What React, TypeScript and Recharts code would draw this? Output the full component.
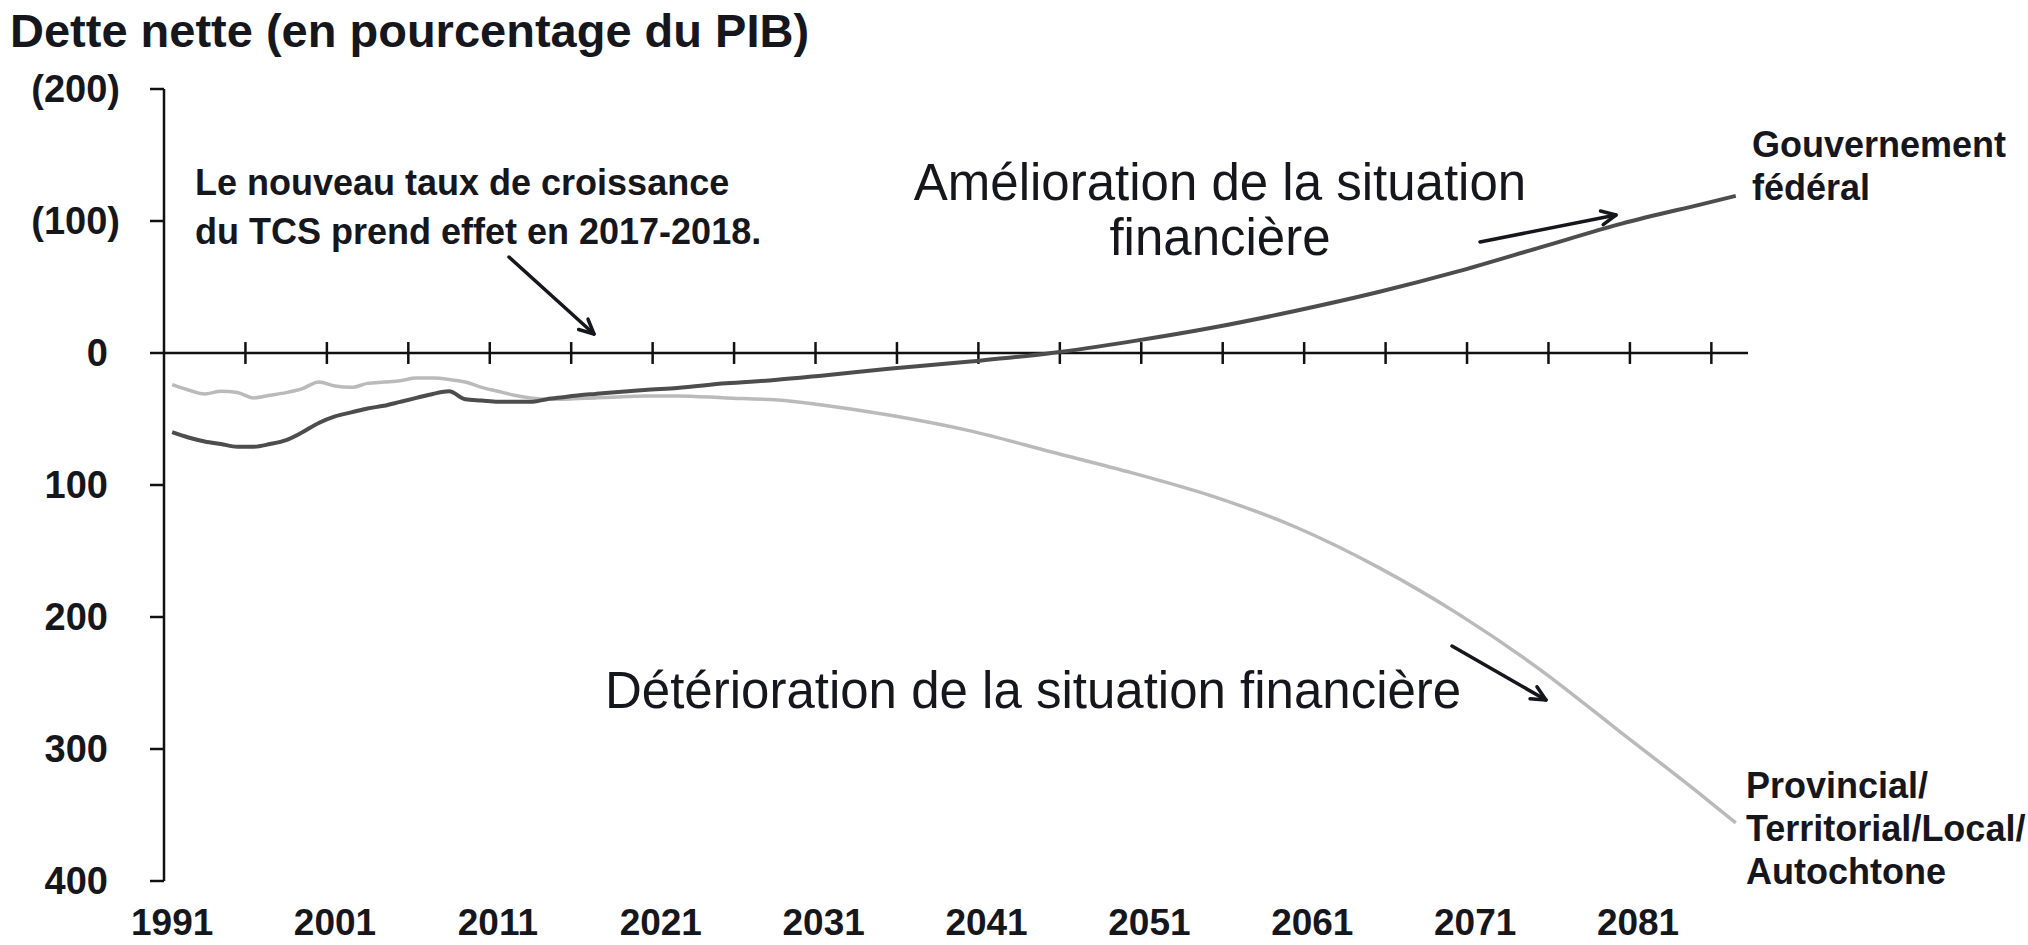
import { Line, LineChart, ReferenceLine, XAxis, YAxis } from "recharts";

// Net debt, % of GDP. Positive = debt (drawn downward), negative = net assets.
const years = [
  1991, 1992, 1993, 1994, 1995, 1996, 1997, 1998, 1999, 2000,
  2001, 2002, 2003, 2004, 2005, 2006, 2007, 2008, 2009, 2010,
  2011, 2012, 2013, 2014, 2015, 2016, 2017, 2018, 2019, 2020,
  2022, 2025, 2028, 2031, 2035, 2040, 2045, 2050, 2055, 2060,
  2065, 2070, 2075, 2080, 2085, 2087,
];
const federalDebt = [
  60, 64, 67, 69, 71, 71, 69, 66, 60, 53,
  48, 45, 42, 40, 37, 34, 31, 29, 35, 36,
  37, 37, 37, 35, 33.5, 32, 31, 30, 29, 28,
  26.5, 23, 20.5, 17, 12, 6.5, 0, -9, -19.5, -32,
  -46, -62, -80, -98, -113, -119,
];
const provincialDebt = [
  24, 28, 31, 29, 30, 34, 32, 30, 27, 22,
  25, 26, 23, 22, 21, 19, 19, 20, 22, 26,
  29, 32, 34, 35, 35, 34.5, 34, 33.5, 33, 32.5,
  32.5, 34, 35.5, 39.5, 47, 59, 75, 91, 109, 132,
  162, 198, 240, 288, 336, 356,
];

const yTicks = [-200, -100, 0, 100, 200, 300, 400];
const yearLabels = [1991, 2001, 2011, 2021, 2031, 2041, 2051, 2061, 2071, 2081];
// tick marks on the zero line sit on the boundaries between fiscal years
const zeroLineTicks = [
  1995.5, 2000.5, 2005.5, 2010.5, 2015.5, 2020.5, 2025.5, 2030.5, 2035.5, 2040.5,
  2045.5, 2050.5, 2055.5, 2060.5, 2065.5, 2070.5, 2075.5, 2080.5, 2085.5,
];

const rows = years.map((year, i) => ({
  year,
  federal: federalDebt[i],
  provincial: provincialDebt[i],
}));

const FONT = '"Liberation Sans", Arial, Helvetica, sans-serif';
const INK = "#16161d";
const FED_COLOR = "#4d4d4d";
const PROV_COLOR = "#bababa";
const TICK_HALF = 8.3; // half-length of zero-line ticks, in axis units

function YTick({ x, y, payload }: any) {
  const v = payload.value as number;
  const neg = v < 0;
  return (
    <text
      x={neg ? x + 12 : x}
      y={y}
      dy={13}
      textAnchor="end"
      fontFamily={FONT}
      fontWeight={700}
      fontSize={38}
      fill={INK}
    >
      {neg ? `(${-v})` : `${v}`}
    </text>
  );
}

function XTick({ x, y, payload }: any) {
  return (
    <text x={x} y={y + 54} textAnchor="middle" fontFamily={FONT} fontWeight={700} fontSize={37} fill={INK}>
      {payload.value}
    </text>
  );
}

function Arrow({ x1, y1, x2, y2 }: { x1: number; y1: number; x2: number; y2: number }) {
  const a = Math.atan2(y2 - y1, x2 - x1);
  const len = 16;
  const spread = 0.45;
  const hx1 = x2 - len * Math.cos(a - spread);
  const hy1 = y2 - len * Math.sin(a - spread);
  const hx2 = x2 - len * Math.cos(a + spread);
  const hy2 = y2 - len * Math.sin(a + spread);
  return (
    <g stroke={INK} strokeWidth={3.5} fill="none" strokeLinecap="round" strokeLinejoin="round">
      <line x1={x1} y1={y1} x2={x2} y2={y2} />
      <polyline points={`${hx1},${hy1} ${x2},${y2} ${hx2},${hy2}`} />
    </g>
  );
}

export default function App() {
  return (
    <div style={{ position: "absolute", left: 0, top: 0, width: 2028, height: 945, background: "#fff" }}>
      <LineChart width={2028} height={945} data={rows} margin={{ top: 89, right: 280, bottom: 0, left: 0 }}>
        <XAxis
          dataKey="year"
          type="number"
          domain={[1990.5, 2087.75]}
          ticks={yearLabels}
          axisLine={false}
          tickLine={false}
          tickSize={0}
          tickMargin={0}
          height={64}
          tick={<XTick />}
          interval={0}
        />
        <YAxis
          type="number"
          domain={[-200, 400]}
          reversed
          ticks={yTicks}
          width={164}
          tickSize={14}
          tickMargin={42}
          axisLine={{ stroke: "#111", strokeWidth: 2.5 }}
          tickLine={{ stroke: "#111", strokeWidth: 2.5 }}
          tick={<YTick />}
          interval={0}
        />
        <ReferenceLine y={0} stroke="#111" strokeWidth={2.5} />
        {zeroLineTicks.map((t) => (
          <ReferenceLine
            key={t}
            segment={[
              { x: t, y: -TICK_HALF },
              { x: t, y: TICK_HALF },
            ]}
            stroke="#111"
            strokeWidth={2.5}
          />
        ))}
        <Line
          type="monotone"
          dataKey="provincial"
          stroke={PROV_COLOR}
          strokeWidth={3.5}
          dot={false}
          isAnimationActive={false}
        />
        <Line
          type="monotone"
          dataKey="federal"
          stroke={FED_COLOR}
          strokeWidth={4}
          dot={false}
          isAnimationActive={false}
        />
      </LineChart>

      <svg
        width={2028}
        height={945}
        style={{ position: "absolute", left: 0, top: 0, pointerEvents: "none" }}
        fontFamily={FONT}
        fill={INK}
      >
        <text x={10} y={47} fontSize={47} fontWeight={700}>
          Dette nette (en pourcentage du PIB)
        </text>

        <text x={195} y={195} fontSize={36} fontWeight={700}>
          Le nouveau taux de croissance
        </text>
        <text x={195} y={244} fontSize={36} fontWeight={700}>
          du TCS prend effet en 2017-2018.
        </text>
        <Arrow x1={509} y1={257} x2={594} y2={334} />

        <text x={1220} y={200} fontSize={51} textAnchor="middle">
          Amélioration de la situation
        </text>
        <text x={1220} y={255} fontSize={51} textAnchor="middle">
          financière
        </text>
        <Arrow x1={1480} y1={242} x2={1616} y2={215} />

        <text x={605} y={708} fontSize={51}>
          Détérioration de la situation financière
        </text>
        <Arrow x1={1452} y1={646} x2={1546} y2={700} />

        <text x={1752} y={157} fontSize={36} fontWeight={700}>
          Gouvernement
        </text>
        <text x={1752} y={200} fontSize={36} fontWeight={700}>
          fédéral
        </text>

        <text x={1746} y={798} fontSize={36} fontWeight={700}>
          Provincial/
        </text>
        <text x={1746} y={841} fontSize={36} fontWeight={700}>
          Territorial/Local/
        </text>
        <text x={1746} y={884} fontSize={36} fontWeight={700}>
          Autochtone
        </text>
      </svg>
    </div>
  );
}
